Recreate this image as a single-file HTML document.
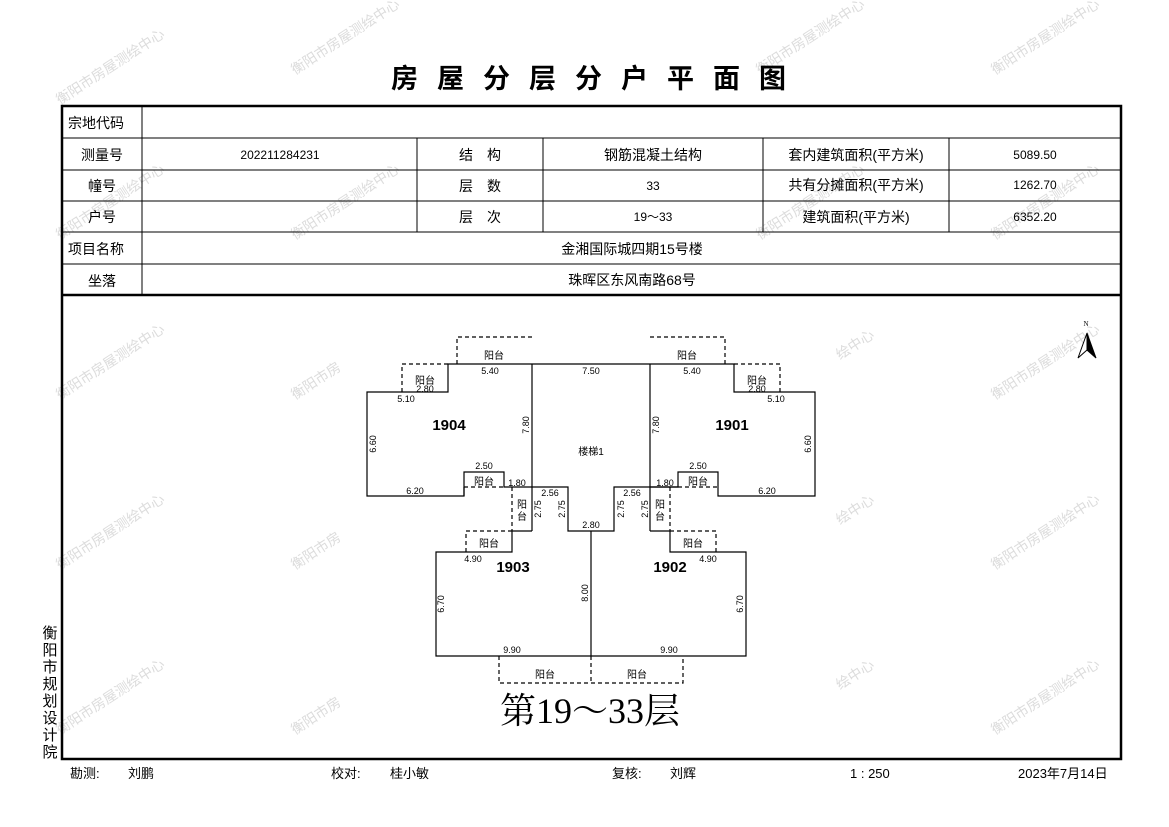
<!DOCTYPE html>
<html><head><meta charset="utf-8">
<style>
html,body{margin:0;padding:0;background:#fff;}
svg{display:block;}
text{font-family:"Liberation Sans","Noto Sans CJK SC",sans-serif;fill:#000;}
.wm text{fill:#dcdcdc;font-size:14px;}
.t{font-size:14px;}
.d{font-size:9px;font-family:"Liberation Mono","Noto Sans CJK SC",monospace;}
.b{font-size:10px;}
.u{font-size:15px;font-weight:bold;font-family:"Liberation Serif",serif;}
</style></head>
<body>
<svg width="1169" height="827" viewBox="0 0 1169 827" xmlns="http://www.w3.org/2000/svg">
<rect width="1169" height="827" fill="#fff"/>
<g class="wm">
<text transform="translate(60,105) rotate(-33)">衡阳市房屋测绘中心</text>
<text transform="translate(295,75) rotate(-33)">衡阳市房屋测绘中心</text>
<text transform="translate(760,75) rotate(-33)">衡阳市房屋测绘中心</text>
<text transform="translate(995,75) rotate(-33)">衡阳市房屋测绘中心</text>
<text transform="translate(60,240) rotate(-33)">衡阳市房屋测绘中心</text>
<text transform="translate(295,240) rotate(-33)">衡阳市房屋测绘中心</text>
<text transform="translate(760,240) rotate(-33)">衡阳市房屋测绘中心</text>
<text transform="translate(995,240) rotate(-33)">衡阳市房屋测绘中心</text>
<text transform="translate(60,400) rotate(-33)">衡阳市房屋测绘中心</text>
<text transform="translate(295,400) rotate(-33)">衡阳市房</text>
<text transform="translate(840,360) rotate(-33)">绘中心</text>
<text transform="translate(995,400) rotate(-33)">衡阳市房屋测绘中心</text>
<text transform="translate(60,570) rotate(-33)">衡阳市房屋测绘中心</text>
<text transform="translate(295,570) rotate(-33)">衡阳市房</text>
<text transform="translate(840,525) rotate(-33)">绘中心</text>
<text transform="translate(995,570) rotate(-33)">衡阳市房屋测绘中心</text>
<text transform="translate(60,735) rotate(-33)">衡阳市房屋测绘中心</text>
<text transform="translate(295,735) rotate(-33)">衡阳市房</text>
<text transform="translate(840,690) rotate(-33)">绘中心</text>
<text transform="translate(995,735) rotate(-33)">衡阳市房屋测绘中心</text>
</g>
<text x="598" y="88" text-anchor="middle" style="font-size:27px;font-weight:bold;letter-spacing:19px;font-family:'Noto Sans CJK SC',sans-serif">房屋分层分户平面图</text>
<rect x="62" y="106" width="1059" height="653" fill="none" stroke="#000" stroke-width="2.5"/>
<g stroke="#000" stroke-width="1">
<line x1="62" y1="138" x2="1121" y2="138"/>
<line x1="62" y1="170" x2="1121" y2="170"/>
<line x1="62" y1="201" x2="1121" y2="201"/>
<line x1="62" y1="232" x2="1121" y2="232"/>
<line x1="62" y1="264" x2="1121" y2="264"/>
<line x1="142" y1="106" x2="142" y2="295"/>
<line x1="417" y1="138" x2="417" y2="232"/>
<line x1="543" y1="138" x2="543" y2="232"/>
<line x1="763" y1="138" x2="763" y2="232"/>
<line x1="949" y1="138" x2="949" y2="232"/>
</g>
<line x1="62" y1="295" x2="1121" y2="295" stroke="#000" stroke-width="2.5"/>
<g class="t">
<text x="68" y="128">宗地代码</text>
<text x="102" y="160" text-anchor="middle">测量号</text>
<text x="102" y="191" text-anchor="middle">幢号</text>
<text x="102" y="222" text-anchor="middle">户号</text>
<text x="68" y="254">项目名称</text>
<text x="102" y="286" text-anchor="middle">坐落</text>
<text x="280" y="159" text-anchor="middle" style="font-size:12px">202211284231</text>
<text x="480" y="160" text-anchor="middle">结　构</text>
<text x="480" y="191" text-anchor="middle">层　数</text>
<text x="480" y="222" text-anchor="middle">层　次</text>
<text x="653" y="160" text-anchor="middle">钢筋混凝土结构</text>
<text x="653" y="190" text-anchor="middle" style="font-size:12px">33</text>
<text x="653" y="221" text-anchor="middle" style="font-size:12px">19～33</text>
<text x="856" y="160" text-anchor="middle">套内建筑面积(平方米)</text>
<text x="856" y="190" text-anchor="middle">共有分摊面积(平方米)</text>
<text x="856" y="222" text-anchor="middle">建筑面积(平方米)</text>
<text x="1035" y="159" text-anchor="middle" style="font-size:12px">5089.50</text>
<text x="1035" y="189" text-anchor="middle" style="font-size:12px">1262.70</text>
<text x="1035" y="221" text-anchor="middle" style="font-size:12px">6352.20</text>
<text x="632" y="254" text-anchor="middle">金湘国际城四期15号楼</text>
<text x="632" y="285" text-anchor="middle">珠晖区东风南路68号</text>
</g>
<g class="t" style="font-size:15px" text-anchor="middle">
<text x="50" y="638">衡</text><text x="50" y="655">阳</text><text x="50" y="672">市</text><text x="50" y="689">规</text>
<text x="50" y="706">划</text><text x="50" y="723">设</text><text x="50" y="740">计</text><text x="50" y="757">院</text>
</g>
<g class="t" style="font-size:13px">
<text x="70" y="778">勘测:</text><text x="128" y="778">刘鹏</text>
<text x="331" y="778">校对:</text><text x="390" y="778">桂小敏</text>
<text x="612" y="778">复核:</text><text x="670" y="778">刘辉</text>
<text x="850" y="778">1 : 250</text>
<text x="1018" y="778">2023年7月14日</text>
</g>
<text x="1086" y="326" text-anchor="middle" style="font-size:7px;font-family:'Liberation Serif',serif">N</text>
<polygon points="1087,333 1078,358 1087,350" fill="#fff" stroke="#000" stroke-width="1"/>
<polygon points="1087,333 1096,358 1087,350" fill="#000" stroke="#000" stroke-width="1"/>
<g fill="none" stroke="#000" stroke-width="1.2">
<polyline points="464,487 464,496 367,496 367,392 448,392 448,364 734,364 734,392 815,392 815,496 718,496 718,472 678,472 678,487 650,487"/>
<polyline points="464,496 464,472 504,472 504,487 568,487 568,531 614,531 614,487 678,487"/>
<line x1="532" y1="364" x2="532" y2="531"/>
<line x1="650" y1="364" x2="650" y2="531"/>
<polyline points="532,531 512,531 512,552 436,552 436,656 746,656 746,552 670,552 670,531 650,531"/>
<line x1="591" y1="531" x2="591" y2="656"/>
</g>
<g fill="none" stroke="#000" stroke-width="1.2" stroke-dasharray="4,3">
<polyline points="457,364 457,337 532,337"/>
<polyline points="650,337 725,337 725,364"/>
<polyline points="402,392 402,364 448,364"/>
<polyline points="780,392 780,364 734,364"/>
<line x1="464" y1="487" x2="504" y2="487"/>
<line x1="678" y1="487" x2="718" y2="487"/>
<line x1="512" y1="487" x2="512" y2="531"/>
<line x1="670" y1="487" x2="670" y2="531"/>
<polyline points="512,531 466,531 466,552"/>
<polyline points="670,531 716,531 716,552"/>
<polyline points="499,656 499,683 683,683 683,656"/>
<line x1="591" y1="656" x2="591" y2="683"/>
</g>
<g class="u" text-anchor="middle">
<text x="449" y="430">1904</text><text x="732" y="430">1901</text>
<text x="513" y="572">1903</text><text x="670" y="572">1902</text>
</g>
<text x="591" y="455" text-anchor="middle" class="b">楼梯1</text>
<g class="b" text-anchor="middle">
<text x="494" y="359">阳台</text><text x="687" y="359">阳台</text>
<text x="425" y="384">阳台</text><text x="757" y="384">阳台</text>
<text x="484" y="485">阳台</text><text x="698" y="485">阳台</text>
<text x="489" y="547">阳台</text><text x="693" y="547">阳台</text>
<text x="545" y="678">阳台</text><text x="637" y="678">阳台</text>
<text x="522" y="508">阳</text><text x="522" y="520">台</text>
<text x="660" y="508">阳</text><text x="660" y="520">台</text>
</g>
<g class="d" text-anchor="middle">
<text x="490" y="374">5.40</text><text x="591" y="374">7.50</text><text x="692" y="374">5.40</text>
<text x="425" y="392">2.80</text><text x="757" y="392">2.80</text>
<text x="406" y="402">5.10</text><text x="776" y="402">5.10</text>
<text x="484" y="469">2.50</text><text x="698" y="469">2.50</text>
<text x="415" y="494">6.20</text><text x="767" y="494">6.20</text>
<text x="550" y="496">2.56</text><text x="632" y="496">2.56</text>
<text x="591" y="528">2.80</text>
<text x="517" y="486">1.80</text><text x="665" y="486">1.80</text>
<text x="473" y="562">4.90</text><text x="708" y="562">4.90</text>
<text x="512" y="653">9.90</text><text x="669" y="653">9.90</text>
<text transform="translate(376,444) rotate(-90)">6.60</text>
<text transform="translate(811,444) rotate(-90)">6.60</text>
<text transform="translate(529,425) rotate(-90)">7.80</text>
<text transform="translate(659,425) rotate(-90)">7.80</text>
<text transform="translate(541,509) rotate(-90)">2.75</text>
<text transform="translate(565,509) rotate(-90)">2.75</text>
<text transform="translate(624,509) rotate(-90)">2.75</text>
<text transform="translate(648,509) rotate(-90)">2.75</text>
<text transform="translate(588,593) rotate(-90)">8.00</text>
<text transform="translate(444,604) rotate(-90)">6.70</text>
<text transform="translate(743,604) rotate(-90)">6.70</text>
</g>
<text x="590" y="723" text-anchor="middle" style="font-size:36px;font-family:'Liberation Serif','Noto Serif CJK SC',serif">第19～33层</text>
</svg>
</body></html>
